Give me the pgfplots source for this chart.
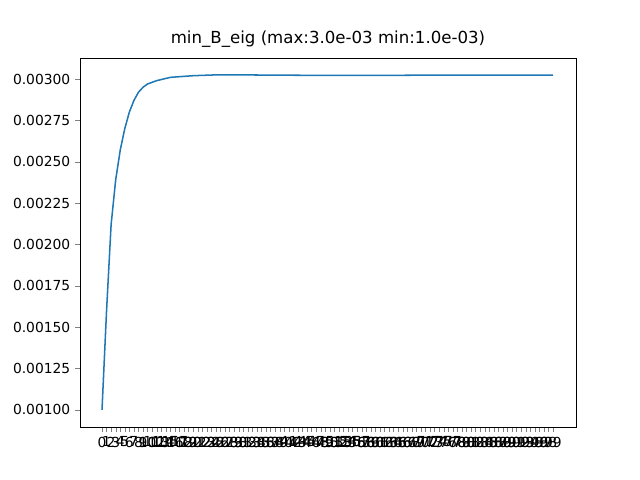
\documentclass[border=0pt]{standalone}
\usepackage{pgfplots}
\pgfplotsset{compat=1.18}
\usepackage{fontspec}
\setmainfont{DejaVu Sans}
\definecolor{mblue}{HTML}{1F77B4}
\begin{document}
\begin{tikzpicture}
\begin{axis}[
  name=ax,
  scale only axis, width=4.96in, height=3.69in,
  xmin=-4.83, xmax=104.05, ymin=0.000897, ymax=0.003127,
  xtick={0,1,...,99},
  ytick={0.001,0.00125,0.0015,0.00175,0.002,0.00225,0.0025,0.00275,0.003},
  scaled y ticks=false,
  yticklabel style={/pgf/number format/.cd,fixed,fixed zerofill,precision=5},
  /pgf/number format/assume math mode=true,
  tick label style={font=\fontsize{10}{12}\selectfont},
  tick align=outside, tick pos=left,
  major tick length=3.5pt,
  title={min\_B\_eig (max:3.0e-03 min:1.0e-03)},
  title style={font=\fontsize{12}{14}\selectfont, yshift=-2pt},
]
\addplot[mblue, line width=1.1pt] coordinates {
(0,0.00100)(1,0.00160)(2,0.00212)(3,0.00239)(4,0.00257)(5,0.00270)(6,0.00280)(7,0.00287)(8,0.00292)(9,0.00295)(10,0.00297)(12,0.00299)(15,0.003010)(20,0.003020)(25,0.003025)(30,0.003025)(40,0.003023)(50,0.003022)(60,0.003022)(70,0.003023)(80,0.003024)(90,0.003024)(99,0.003024)};
\end{axis}
\path (ax.south west) ++(-0.8in,-0.53in) coordinate (bl);
\path (bl) rectangle ++(6.4in,4.8in);
\end{tikzpicture}
\end{document}
